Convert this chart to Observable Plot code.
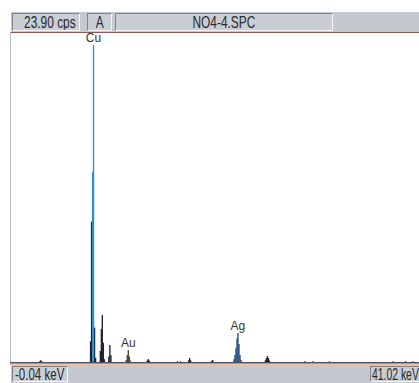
<!DOCTYPE html>
<html>
<head>
<meta charset="utf-8">
<script src="https://cdn.jsdelivr.net/npm/d3@7"></script>
<script src="https://cdn.jsdelivr.net/npm/@observablehq/plot@0.6"></script>
<style>
  html, body { margin: 0; padding: 0; background: #fff; }
  #wrap { position: relative; width: 419px; height: 383px; overflow: hidden; background: #fff;
          font-family: "Liberation Sans", Arial, sans-serif; color: #2a2a2e; }
  .bar { position: absolute; left: 11px; width: 440px; background: #c4c9d0; }
  .box { position: absolute; box-sizing: border-box; background: #c9cdd4;
         border-top: 1px solid #7f848c; border-left: 1px solid #7f848c;
         border-bottom: 1px solid #f4f6f8; border-right: 1px solid #f4f6f8;
         white-space: nowrap; line-height: 1; overflow: hidden; }
  .box span { display: inline-block; transform: scaleX(0.7); }
  .c { text-align: center; }
  .c span { transform-origin: center; }
  .l span { transform-origin: left; }
  #chart { position: absolute; left: 0; top: 32px; width: 432px; }
  #chart svg { max-width: none; }
  #frame { position: absolute; left: 10px; top: 32px; width: 1px; height: 333px; background: #b7bbc1; }
</style>
</head>
<body>
<div id="wrap">
  <div class="bar" style="top:12px;height:20px;border-bottom:1px solid #8a5a5a;"></div>
  <div class="box c" style="left:12px;top:13px;width:68px;height:18px;font-size:17px;"><span id="cps"></span></div>
  <div class="box c" style="left:87px;top:13px;width:25px;height:18px;font-size:17px;"><span id="mode"></span></div>
  <div class="box c" style="left:115px;top:13px;width:218px;height:18px;font-size:17px;"><span id="file"></span></div>
  <div id="frame"></div>
  <div id="chart"></div>
  <div class="bar" style="top:365px;height:18px;"></div>
  <div class="box l" style="left:12px;top:366px;width:56px;height:16px;font-size:16px;padding-left:2px;"><span id="xmin" style="transform:scaleX(0.72)"></span></div>
  <div class="box l" style="left:370px;top:366px;width:49px;height:16px;font-size:16px;padding-left:1px;border-right:none;"><span id="xmax" style="transform:scaleX(0.65)"></span></div>
</div>
<script>
// ---- header / footer texts ----
const fullScaleText = "23.90 cps";
const modeText = "A";
const fileName = "NO4-4.SPC";
const xMinText = "-0.04 keV";
const xMaxText = "41.02 keV";

// ---- axis extents ----
const energyRange = [-0.04, 41.02];   // keV
const countRange = [0, 23.90];        // cps

// ---- spectrum channels (keV, cps) ----
// background / unlabelled peaks
const otherE   = [2.8, 2.9, 3.0, 7.75, 7.85, 8.14, 8.24, 8.70, 8.80, 8.89, 8.99, 9.09,
                  9.53, 9.63, 9.73, 13.27, 13.37, 13.47, 16.2, 16.5, 17.29, 17.39, 17.49,
                  19.53, 19.63, 24.76, 24.86, 24.96, 25.06, 25.16, 28.6, 29.4, 31.0, 37.2, 38.4, 39.1];
const otherCps = [0.06, 0.12, 0.06, 1.5, 10.2, 2.5, 0.3, 0.8, 2.4, 3.41, 1.4, 0.2,
                  0.4, 1.23, 0.5, 0.1, 0.22, 0.1, 0.05, 0.06, 0.12, 0.29, 0.12,
                  0.08, 0.15, 0.12, 0.28, 0.44, 0.28, 0.1, 0.05, 0.06, 0.05, 0.05, 0.06, 0.05];
// Cu K-alpha ROI
const cuE   = [7.95, 8.04];
const cuCps = [13.8, 23.03];
// Au L-beta ROI
const auE   = [11.22, 11.32, 11.42, 11.52, 11.62];
const auCps = [0.15, 0.5, 0.87, 0.4, 0.1];
// Ag K-alpha ROI
const agE   = [21.70, 21.80, 21.90, 22.00, 22.09, 22.19, 22.29, 22.39];
const agCps = [0.2, 0.5, 1.0, 1.7, 2.1, 1.3, 0.5, 0.15];

// ---- peak labels ----
const labelNames = ["Cu", "Au", "Ag"];
const labelE = [8.04, 11.42, 22.09];
const labelCps = [23.03, 0.87, 2.1];

document.getElementById("cps").textContent = fullScaleText;
document.getElementById("mode").textContent = modeText;
document.getElementById("file").textContent = fileName;
document.getElementById("xmin").textContent = xMinText;
document.getElementById("xmax").textContent = xMaxText;

const toRows = (es, cs) => es.map((e, i) => ({e, c: cs[i]}));
const chan = (es, cs, color) => Plot.ruleX(toRows(es, cs), {x: "e", y1: () => 0, y2: "c", stroke: color, strokeWidth: 1.35});

const chart = Plot.plot({
  width: 432, height: 333,
  marginLeft: 10, marginRight: 0, marginTop: 1, marginBottom: 3,
  x: {domain: energyRange, axis: null},
  y: {domain: countRange, axis: null},
  style: {background: "transparent", maxWidth: "none"},
  marks: [
    Plot.ruleY([0], {stroke: "#d98a4a", strokeWidth: 1.6, dy: 1.2}),
    Plot.ruleY([0], {stroke: "#505060", strokeWidth: 1}),
    chan(otherE, otherCps, "#1b2130"),
    chan(auE, auCps, "#3e4c30"),
    chan(agE, agCps, "#1f4a7c"),
    chan(cuE, cuCps, "#2d8fd8"),
    Plot.text(labelNames.map((t, i) => ({t, e: labelE[i], c: labelCps[i]})), {
      x: "e", y: "c", text: "t", dy: -7, lineAnchor: "middle",
      fontSize: 12, fill: "#333", fontFamily: "Liberation Sans, Arial, sans-serif"
    })
  ]
});
document.getElementById("chart").appendChild(chart);
</script>
</body>
</html>
